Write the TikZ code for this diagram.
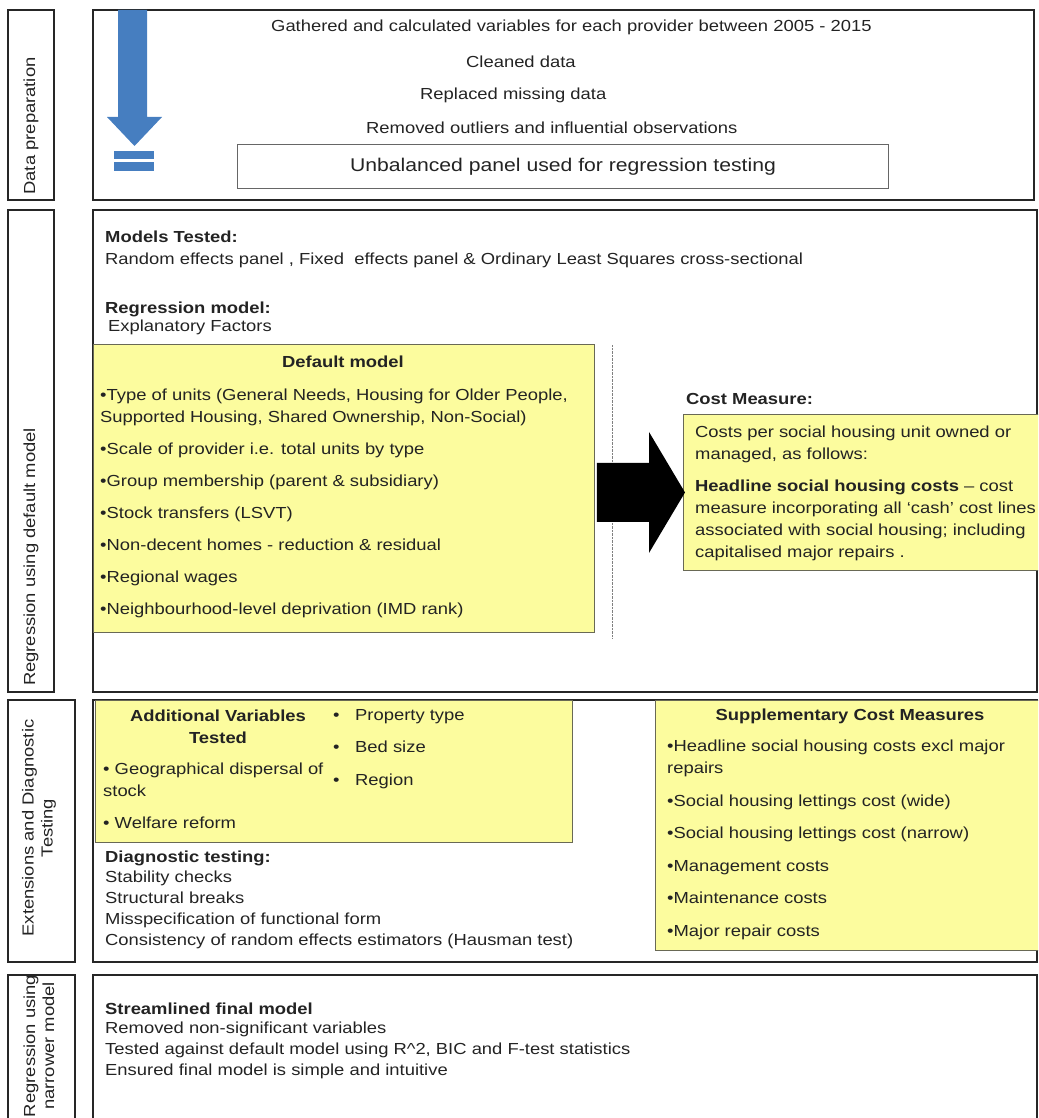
\documentclass[tikz,border=0pt]{standalone}
\usepackage{fontspec}
\setmainfont{Liberation Sans}[FakeStretch=1.15]
\usepackage{tikz}
\usetikzlibrary{calc,positioning}
\definecolor{frameDark}{RGB}{38,38,38}
\definecolor{noteYellow}{RGB}{252,252,158}
\definecolor{noteEdge}{RGB}{105,105,85}
\definecolor{flowBlue}{RGB}{70,126,192}
\definecolor{txtDark}{RGB}{35,35,35}
\newcommand{\bodyfont}{\fontsize{16}{22}\selectfont}
\newcommand{\bul}{\makebox[22pt][l]{•}}

\begin{document}
\begin{tikzpicture}[x=1pt,y=-1pt,
  stagebox/.style={draw=frameDark, line width=2pt},
  notebox/.style={draw=noteEdge, fill=noteYellow, line width=0.9pt, anchor=north west, inner sep=0pt},
  txt/.style={inner sep=0pt, anchor=west, align=left, text=txtDark, font=\bodyfont},
  txtblock/.style={txt, anchor=north west},
  lbl/.style={inner sep=0pt, rotate=90, align=center, text=txtDark, font=\fontsize{16}{19}\selectfont}]
\useasboundingbox (0,0) rectangle (1038,1118);
\clip (0,0) rectangle (1038,1118);

% stage frames
\draw[stagebox] (8,10) rectangle (54,200);
\draw[stagebox] (93,10) rectangle (1034,200);
\draw[stagebox] (8,210) rectangle (54,692);
\draw[stagebox] (93,210) rectangle (1037,692);
\draw[stagebox] (8,700) rectangle (75,962);
\draw[stagebox] (93,700) rectangle (1037,962);
\draw[stagebox] (8,975) rectangle (75,1130);
\draw[stagebox] (93,975) rectangle (1037,1130);

\node[lbl] (lblPrep) at (31,126) {Data preparation};
\node[lbl] (lblDefault) at (31,557) {Regression using default model};
\node[lbl] (lblExt) at (39,828) {Extensions and Diagnostic\\Testing};
\node[lbl] (lblNarrow) at (39,1046) {Regression using\\narrower model};

% data preparation
\fill[flowBlue] (118,10) -- (147,10) -- (147,117) -- (162,117) -- (134.5,146)
  -- (107,117) -- (118,117) -- cycle;
\fill[flowBlue] (114,151) rectangle (154,159);
\fill[flowBlue] (114,162) rectangle (154,171);

\node[txt] (gathered) at (271,27) {Gathered and calculated variables for each provider between 2005 - 2015};
\node[txt] (cleaned) at (466,62) {Cleaned data};
\node[txt] (replaced) at (420,95) {Replaced missing data};
\node[txt] (removed) at (366,128) {Removed outliers and influential observations};
\node[draw=black!60, line width=1pt, anchor=north west, minimum width=651pt, minimum height=44pt,
  inner sep=0pt, text=txtDark, font=\fontsize{18.4}{22}\selectfont] (panel) at (237,144)
  {Unbalanced panel used for regression testing};

% default model
\node[txt, font=\bodyfont\bfseries] (modelsHead) at (105,237) {Models Tested:};
\node[txt] (modelsList) at (105,260) {Random effects panel , Fixed~ effects panel \& Ordinary Least Squares cross-sectional};
\node[txt, font=\bodyfont\bfseries] (regHead) at (105,309) {Regression model:};
\node[txt] (regSub) at (108,327) {Explanatory Factors};

\node[notebox, minimum width=501pt, minimum height=288pt] (dflt) at (93,344) {};
\node[txt, anchor=center, font=\bodyfont\bfseries] (dfltTitle) at (343,362) {Default model};
\node[txtblock] (dfltList) at (100,389) {•Type of units (General Needs, Housing for Older People,\\
  Supported Housing, Shared Ownership, Non-Social)\\[10pt]
  •Scale of provider i.e. total units by type\\[10pt]
  •Group membership (parent \& subsidiary)\\[10pt]
  •Stock transfers (LSVT)\\[10pt]
  •Non-decent homes - reduction \& residual\\[10pt]
  •Regional wages\\[10pt]
  •Neighbourhood-level deprivation (IMD rank)};

\draw[gray, densely dotted] (612,345) -- (612,638);

\node[txt, font=\bodyfont\bfseries] (costHead) at (686,399) {Cost Measure:};
\node[notebox, minimum width=370pt, minimum height=156pt] (cost) at (683,414) {};
\node[txtblock] (costText) at (695,426) {Costs per social housing unit owned or\\
  managed, as follows:\\[10pt]
  \textbf{Headline social housing costs} – cost\\
  measure incorporating all ‘cash’ cost lines\\
  associated with social housing; including\\
  capitalised major repairs .};

\coordinate (arrTail) at ($(dflt.east |- cost.west)+(2,0)$);
\coordinate (arrTip) at ($(cost.west)+(2,0)$);
\fill[black] ($(arrTail)+(0,-29.5)$) -- ($(arrTip)+(-36,-29.5)$) -- ($(arrTip)+(-36,-60.5)$)
  -- (arrTip) -- ($(arrTip)+(-36,60.5)$) -- ($(arrTip)+(-36,29.5)$) -- ($(arrTail)+(0,29.5)$) -- cycle;

% extensions and diagnostics
\node[notebox, minimum width=477pt, minimum height=142pt] (addBox) at (95,700) {};
\node[txt, anchor=center, align=center, font=\bodyfont\bfseries] (addTitle) at (218,727)
  {Additional Variables\\Tested};
\node[txtblock] (addLeft) at (103,763) {• Geographical dispersal of\\stock\\[10pt]• Welfare reform};
\node[txtblock] (addRight) at (333,709) {\bul Property type\\[10pt]\bul Bed size\\[11pt]\bul Region};

\node[txt, font=\bodyfont\bfseries] (diagHead) at (105,858) {Diagnostic testing:};
\node[txtblock, font=\fontsize{16}{21}\selectfont] (diagList) at (105,871) {Stability checks\\
  Structural breaks\\
  Misspecification of functional form\\
  Consistency of random effects estimators (Hausman test)};

\node[notebox, minimum width=390pt, minimum height=250pt] (suppBox) at (655,700) {};
\node[txt, anchor=center, font=\bodyfont\bfseries] (suppTitle) at (850,716) {Supplementary Cost Measures};
\node[txtblock] (suppList) at (667,740) {•Headline social housing costs excl major\\
  repairs\\[10.5pt]
  •Social housing lettings cost (wide)\\[10.5pt]
  •Social housing lettings cost (narrow)\\[10.5pt]
  •Management costs\\[10.5pt]
  •Maintenance costs\\[10.5pt]
  •Major repair costs};

% narrower model
\node[txt, font=\bodyfont\bfseries] (finalHead) at (105,1009) {Streamlined final model};
\node[txtblock, font=\fontsize{16}{21}\selectfont] (finalList) at (105,1022) {Removed non-significant variables\\
  Tested against default model using R\^{}2, BIC and F-test statistics\\
  Ensured final model is simple and intuitive};
\end{tikzpicture}
\end{document}
